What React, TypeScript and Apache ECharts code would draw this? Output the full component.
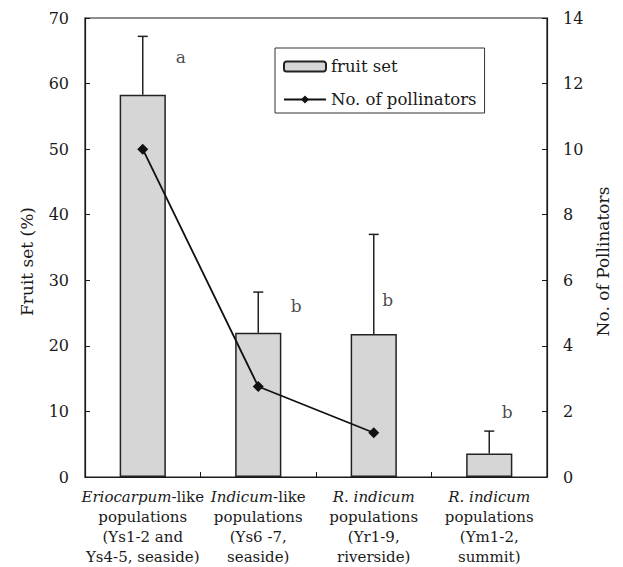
import React, { useEffect, useRef } from "react";
import * as echarts from "echarts";

const FONT = "DejaVu Serif";
const INK = "#1a1a1a";

const categoryLabels = [
  "{i|Eriocarpum}-like\npopulations\n(Ys1-2 and\nYs4-5, seaside)",
  "{i|Indicum}-like\npopulations\n(Ys6 -7,\nseaside)",
  "{i|R. indicum}\npopulations\n(Yr1-9,\nriverside)",
  "{i|R. indicum}\npopulations\n(Ym1-2,\nsummit)",
];
const fruitSet = [58.3, 22.0, 21.8, 3.6];
const fruitSetErrTop = [67.2, 28.2, 37.0, 7.0];
const pollinators: (number | null)[] = [10, 2.76, 1.35, null];
const letters = ["a", "b", "b", "b"];
const letterY = [64, 26.1, 27.0, 9.9];
const letterDx = [38, 38, 14, 18];
const leftTicks = { min: 0, max: 70, interval: 10 };
const rightTicks = { min: 0, max: 14, interval: 2 };

export default function App() {
  const ref = useRef<HTMLDivElement>(null);
  useEffect(() => {
    if (!ref.current) return;
    const chart = echarts.init(ref.current, null, { renderer: "svg" });
    const axisCommon = {
      axisLine: { show: true, lineStyle: { color: INK, width: 1.2 } },
      axisTick: { show: true, inside: true, length: 5, lineStyle: { color: INK } },
      splitLine: { show: false },
      axisLabel: { fontFamily: FONT, fontSize: 16, color: INK, margin: 16 },
      nameLocation: "middle" as const,
      nameRotate: 90,
      nameTextStyle: { fontFamily: FONT, fontSize: 17, color: INK, padding: [0, 28, 0, 0] },
    };
    chart.setOption({
      animation: false,
      backgroundColor: "#ffffff",
      textStyle: { fontFamily: FONT },
      grid: {
        left: 85,
        right: 76,
        top: 18,
        bottom: 89,
        show: true,
        borderColor: INK,
        borderWidth: 1.2,
      },
      legend: {
        data: ["fruit set", "No. of pollinators"],
        orient: "vertical",
        left: 275,
        top: 48,
        borderColor: "#333",
        borderWidth: 1,
        padding: [10, 8, 5, 8],
        itemWidth: 42,
        itemHeight: 10,
        itemGap: 16,
        textStyle: { fontFamily: FONT, fontSize: 16.5, color: INK },
      },
      xAxis: {
        type: "category",
        data: categoryLabels,
        axisLine: { show: true, lineStyle: { color: INK, width: 1.2 } },
        axisTick: { show: true, inside: true, length: 5, alignWithLabel: false, lineStyle: { color: INK } },
        axisLabel: {
          interval: 0,
          fontFamily: FONT,
          fontSize: 15,
          lineHeight: 20,
          color: INK,
          margin: 10,
          rich: {
            i: { fontFamily: FONT, fontSize: 15, lineHeight: 20, fontStyle: "italic", color: INK },
          },
        },
      },
      yAxis: [
        {
          type: "value",
          ...leftTicks,
          ...axisCommon,
          name: "Fruit set (%)",
          nameGap: 50,
          position: "left",
        },
        {
          type: "value",
          ...rightTicks,
          ...axisCommon,
          name: "No. of Pollinators",
          nameGap: 46,
          position: "right",
        },
      ],
      series: [
        {
          name: "fruit set",
          type: "bar",
          data: fruitSet,
          barWidth: "40%",
          yAxisIndex: 0,
          z: 2,
          itemStyle: { color: "#d6d6d6", borderColor: "#222", borderWidth: 1.5 },
        },
        {
          name: "error",
          type: "custom",
          yAxisIndex: 0,
          z: 3,
          silent: true,
          data: fruitSet.map((v, i) => [i, fruitSetErrTop[i], v]),
          encode: { x: 0, y: [1, 2] },
          renderItem: (params: any, api: any) => {
            const x = api.value(0);
            const top = api.value(1);
            const base = api.value(2);
            const p1 = api.coord([x, base]);
            const p2 = api.coord([x, top]);
            const st = { stroke: "#222", lineWidth: 1.5 };
            return {
              type: "group",
              children: [
                { type: "line", shape: { x1: p1[0], y1: p1[1], x2: p2[0], y2: p2[1] }, style: st },
                { type: "line", shape: { x1: p2[0] - 5, y1: p2[1], x2: p2[0] + 5, y2: p2[1] }, style: st },
              ],
            };
          },
        },
        {
          name: "No. of pollinators",
          type: "line",
          yAxisIndex: 1,
          data: pollinators,
          z: 4,
          symbol: "diamond",
          symbolSize: 11,
          color: "#111",
          itemStyle: { color: "#111" },
          lineStyle: { color: "#111", width: 1.8 },
        },
        {
          name: "letters",
          type: "scatter",
          yAxisIndex: 0,
          silent: true,
          symbolSize: 2,
          z: 5,
          itemStyle: { color: "rgba(0,0,0,0)" },
          data: letterY.map((v, i) => ({
            value: [i, v],
            label: { offset: [letterDx[i], 0] },
          })),
          label: {
            show: true,
            position: "inside",
            fontFamily: FONT,
            fontSize: 17,
            color: INK,
            formatter: (p: any) => letters[p.dataIndex],
          },
        },
      ],
    });
    return () => chart.dispose();
  }, []);
  return (
    <div
      ref={ref}
      style={{ position: "fixed", left: 0, top: 0, width: 623, height: 567, background: "#fff" }}
    />
  );
}
